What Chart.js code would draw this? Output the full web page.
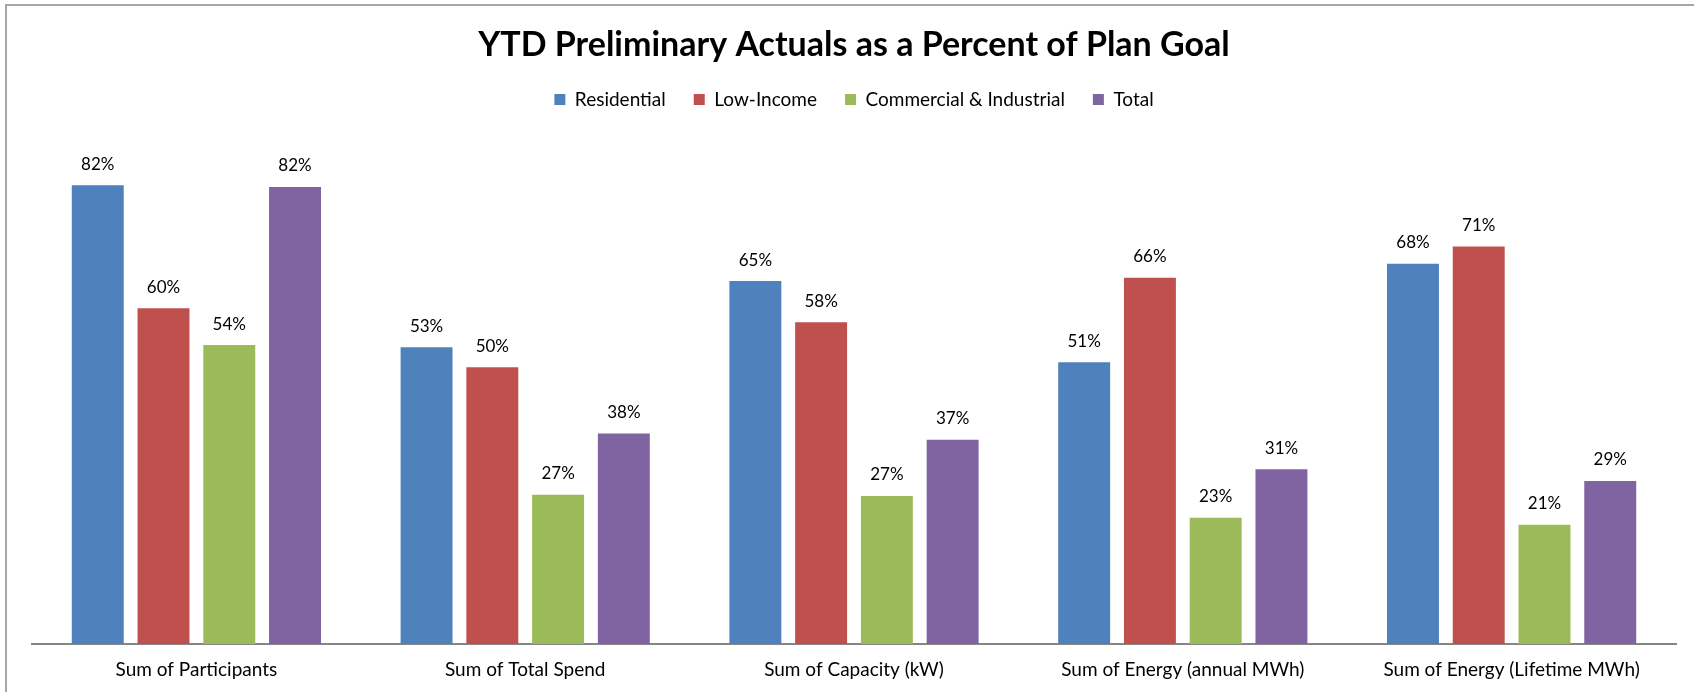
<!DOCTYPE html>
<html><head><meta charset="utf-8">
<script src="https://cdn.jsdelivr.net/npm/chart.js@4.4.1/dist/chart.umd.min.js"></script>
<style>
html,body{margin:0;padding:0;background:#fff;overflow:hidden}
canvas{display:block}
</style></head><body>
<canvas id="c" width="1694" height="692"></canvas>
<script>
const categories = ["Sum of Participants", "Sum of Total Spend", "Sum of Capacity (kW)", "Sum of Energy (annual MWh)", "Sum of Energy (Lifetime MWh)"];
const seriesNames = ["Residential", "Low-Income", "Commercial & Industrial", "Total"];
const residential = [82.4, 53.3, 65.2, 50.6, 68.3];
const lowIncome = [60.3, 49.7, 57.8, 65.8, 71.4];
const commercial = [53.7, 26.8, 26.6, 22.7, 21.4];
const total = [82.1, 37.8, 36.7, 31.4, 29.3];
const titleText = "YTD Preliminary Actuals as a Percent of Plan Goal";

const colors = ["#4F81BD", "#C0504D", "#9BBB59", "#8064A2"];
const seriesValues = [residential, lowIncome, commercial, total];
const FONT = "Lato, 'Open Sans', sans-serif";

const frame = {
  id: 'frame',
  beforeDraw(chart) {
    const ctx = chart.ctx;
    ctx.save();
    ctx.fillStyle = "#fff";
    ctx.fillRect(0, 0, chart.width, chart.height);
    ctx.strokeStyle = "#a6a6a6";
    ctx.lineWidth = 2;
    ctx.beginPath();
    ctx.moveTo(6, chart.height + 5);
    ctx.lineTo(6, 5);
    ctx.lineTo(chart.width + 5, 5);
    ctx.stroke();
    ctx.restore();
  }
};

const valueLabels = {
  id: 'valueLabels',
  afterDatasetsDraw(chart) {
    const ctx = chart.ctx;
    ctx.save();
    ctx.font = "17px " + FONT;
    ctx.fillStyle = "#000";
    ctx.textAlign = "center";
    ctx.textBaseline = "middle";
    chart.data.datasets.forEach((ds, i) => {
      const meta = chart.getDatasetMeta(i);
      meta.data.forEach((bar, j) => {
        ctx.fillText(Math.round(ds.data[j]) + "%", bar.x, bar.y - 21);
      });
    });
    ctx.restore();
  }
};

const legendSpacer = {
  id: 'legendSpacer',
  beforeLayout(chart) {
    const lg = chart.legend;
    if (lg && !lg._spaced) {
      const f = lg.fit;
      lg.fit = function () { f.call(this); this.height += 24; };
      lg._spaced = true;
    }
  }
};

new Chart(document.getElementById('c'), {
  type: 'bar',
  data: {
    labels: categories,
    datasets: seriesNames.map((n, i) => ({
      label: n,
      data: seriesValues[i],
      backgroundColor: colors[i],
      borderWidth: 0,
      barPercentage: 0.79,
      categoryPercentage: 0.8
    }))
  },
  options: {
    responsive: false,
    animation: false,
    devicePixelRatio: 1,
    layout: { padding: { left: 32, right: 18, top: 0, bottom: -4 } },
    plugins: {
      title: {
        display: true,
        text: titleText,
        color: "#000",
        font: { family: FONT, size: 34, weight: 'bold', lineHeight: 1.0 },
        padding: { top: 28, bottom: 0 }
      },
      legend: {
        display: true,
        position: 'top',
        labels: {
          boxWidth: 11,
          boxHeight: 11,
          color: "#000",
          padding: 28,
          font: { family: FONT, size: 19 }
        }
      },
      tooltip: { enabled: false }
    },
    scales: {
      x: {
        grid: { display: false, drawTicks: false },
        border: { display: true, color: "#868686", width: 2 },
        ticks: { color: "#000", padding: 14.6, font: { family: FONT, size: 19 } }
      },
      y: {
        display: false,
        min: 0,
        max: 90
      }
    }
  },
  plugins: [frame, valueLabels, legendSpacer]
});
</script>
</body></html>
